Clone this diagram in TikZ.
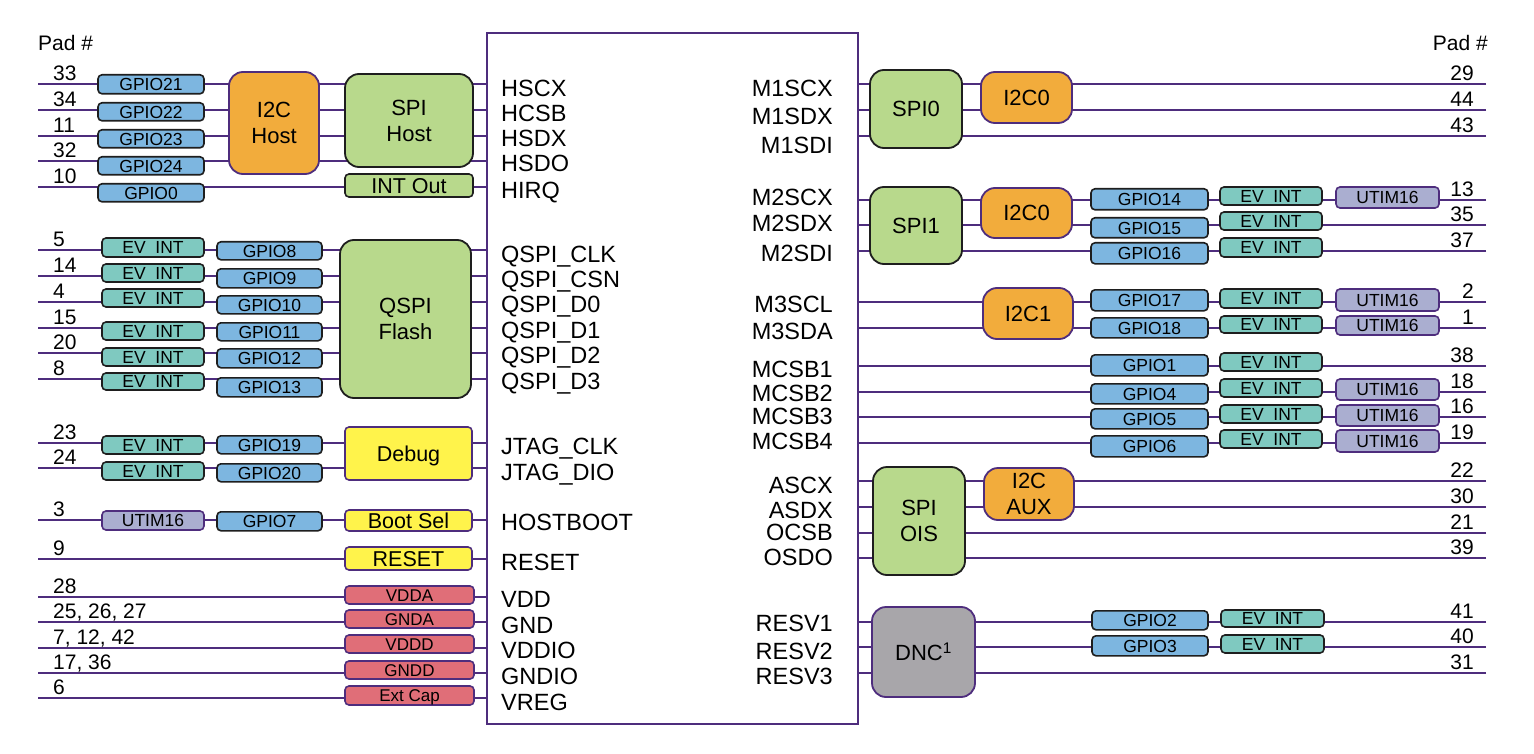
\documentclass[tikz,border=0pt]{standalone}
\usepackage{fontspec}
\setmainfont{Liberation Sans}
\definecolor{ln}{RGB}{78,45,125}
\definecolor{gpioc}{RGB}{125,182,224}
\definecolor{evc}{RGB}{127,201,192}
\definecolor{utc}{RGB}{170,174,208}
\definecolor{orc}{RGB}{242,172,60}
\definecolor{grc}{RGB}{184,217,140}
\definecolor{yec}{RGB}{255,243,75}
\definecolor{pwc}{RGB}{224,110,120}
\definecolor{dnc}{RGB}{168,166,170}
\definecolor{dk}{RGB}{30,30,30}
\newcommand\bx[7]{\node[#2, minimum width={(#5-#3)*1pt}, minimum height={(#6-#4)*1pt}] (#1) at ({(#3+#5)/2},{(#4+#6)/2}) {#7};}
\tikzset{
  wire/.style={draw=ln, line width=1.8pt},
  bxbase/.style={draw, line width=1.6pt, inner sep=0pt, rounded corners=4pt, text depth=0pt},
  gpio/.style={bxbase, fill=gpioc, draw=dk, font=\fontsize{17.5}{18}\selectfont, text height=12.5pt, yshift=-0.8pt},
  evint/.style={bxbase, fill=evc, draw=dk, font=\fontsize{17.5}{18}\selectfont, text height=12.5pt},
  utim/.style={bxbase, fill=utc, draw=ln, font=\fontsize{17.5}{18}\selectfont, text height=12.5pt},
  pwrb/.style={bxbase, fill=pwc, draw=ln, font=\fontsize{17}{18}\selectfont, text height=12.2pt},
  yelb/.style={bxbase, fill=yec, draw=ln, font=\fontsize{21.5}{24}\selectfont, text height=15.4pt},
  grns/.style={bxbase, fill=grc, draw=dk, font=\fontsize{21.5}{24}\selectfont, text height=15.4pt},
  big/.style={draw, line width=1.8pt, inner sep=0pt, rounded corners=14pt, align=center, font=\fontsize{22}{26}\selectfont},
  i2c/.style={big, fill=orc, draw=ln},
  spi/.style={big, fill=grc, draw=dk},
  dncb/.style={big, fill=dnc, draw=ln},
  chipb/.style={draw=ln, line width=1.8pt, inner sep=0pt},
  padnum/.style={font=\fontsize{21}{24}\selectfont, inner sep=0pt},
  pinlbl/.style={font=\fontsize{23.5}{26}\selectfont, inner sep=0pt},
}
\begin{document}
\begin{tikzpicture}[x=1pt,y=-1pt]
\fill[white] (0,0) rectangle (1534,754);
\useasboundingbox (0,0) rectangle (1534,754);
\bx{chip}{chipb}{487}{33}{858}{724}{}
% left wires
\foreach \y [count=\i] in {84,110,136,161,187,250,276,302,328,353,379,443,468,520,559,597,622,648,673,698}
  {\coordinate (lp\i) at (38,\y);}
\foreach \i in {1,...,20} {\draw[wire] (lp\i) -- (lp\i -| chip.west);}
% right wires
\foreach \y [count=\i] in {84,110,136,200,225,251,302,328,366,392,417,443,481,507,533,558,622,647,673}
  {\coordinate (rp\i) at (1486,\y);}
\foreach \i in {1,...,19} {\draw[wire] (rp\i) -- (rp\i -| chip.east);}
% pad headings
\node[padnum, anchor=base west] (padhl) at (38,50.5) {Pad \#};
\node[padnum, anchor=base east] (padhr) at (1488,50.5) {Pad \#};
% left pad numbers
\foreach \y/\t [count=\i] in {84/33,110/34,136/11,161/32,187/10,250/5,276/14,302/4,328/15,353/20,379/8,443/23,468/24,520/3,559/9,597/28,622/{25, 26, 27},648/{7, 12, 42},673/{17, 36},698/6}
  {\node[padnum, anchor=base west] (lnum\i) at (53,\y-3.5) {\t};}
% right pad numbers
\foreach \y/\t [count=\i] in {84/29,110/44,136/43,200/13,225/35,251/37,302/2,328/1,366/38,392/18,417/16,443/19,481/22,507/30,533/21,558/39,622/41,647/40,673/31}
  {\node[padnum, anchor=base east] (rnum\i) at (1474,\y-3.5) {\t};}
% left pin labels
\foreach \y/\t [count=\i] in {88/HSCX,113/HCSB,138/HSDX,163/HSDO,190/HIRQ,254/QSPI\_CLK,279/QSPI\_CSN,304/QSPI\_D0,330/QSPI\_D1,355/QSPI\_D2,381/QSPI\_D3,446/JTAG\_CLK,472/JTAG\_DIO,522/HOSTBOOT,562/RESET,599/VDD,625/GND,650/VDDIO,676/GNDIO,702/VREG}
  {\node[pinlbl, anchor=base west] (lpin\i) at (501,\y+8.4) {\t};}
% right pin labels
\foreach \y/\t [count=\i] in {88/M1SCX,116/M1SDX,145/M1SDI,197/M2SCX,223/M2SDX,253/M2SDI,304/M3SCL,331/M3SDA,369/MCSB1,393/MCSB2,416/MCSB3,441/MCSB4,485/ASCX,510/ASDX,532/OCSB,557/OSDO,623/RESV1,651/RESV2,676/RESV3}
  {\node[pinlbl, anchor=base east] (rpin\i) at (833,\y+8.4) {\t};}
% ---- left blocks ----
\bx{g21}{gpio}{98}{74}{204}{93}{GPIO21}
\bx{g22}{gpio}{98}{102}{204}{120}{GPIO22}
\bx{g23}{gpio}{98}{129}{204}{147}{GPIO23}
\bx{g24}{gpio}{98}{156}{204}{174}{GPIO24}
\bx{g0}{gpio}{98}{183}{204}{201}{GPIO0}
\bx{i2ch}{i2c}{229}{72}{319}{174}{I2C\\Host}
\bx{spih}{spi}{345}{74}{473}{167}{SPI\\Host}
\bx{into}{grns}{345}{174}{473}{197}{INT Out}
\bx{e8}{evint}{102}{238}{204}{257}{EV~~INT}
\bx{e9}{evint}{102}{264}{204}{282}{EV~~INT}
\bx{e10}{evint}{102}{289}{204}{307}{EV~~INT}
\bx{e11}{evint}{102}{322}{204}{340}{EV~~INT}
\bx{e12}{evint}{102}{348}{204}{366}{EV~~INT}
\bx{e13}{evint}{102}{373}{204}{390}{EV~~INT}
\bx{g8}{gpio}{217}{241}{322}{259}{GPIO8}
\bx{g9}{gpio}{217}{268}{322}{287}{GPIO9}
\bx{g10}{gpio}{217}{295}{322}{313}{GPIO10}
\bx{g11}{gpio}{217}{322}{322}{340}{GPIO11}
\bx{g12}{gpio}{217}{348}{322}{367}{GPIO12}
\bx{g13}{gpio}{217}{377}{322}{396}{GPIO13}
\bx{qspi}{spi}{340}{240}{471}{398}{QSPI\\Flash}
\bx{e19}{evint}{102}{436}{204}{454}{EV~~INT}
\bx{e20}{evint}{102}{462}{204}{480}{EV~~INT}
\bx{g19}{gpio}{217}{435}{322}{453}{GPIO19}
\bx{g20}{gpio}{217}{463}{322}{481}{GPIO20}
\bx{dbg}{yelb}{345}{427}{472}{480}{Debug}
\bx{ut7}{utim}{102}{511}{204}{530}{UTIM16}
\bx{g7}{gpio}{217}{511}{322}{530}{GPIO7}
\bx{boot}{yelb}{345}{510}{472}{531}{Boot Sel}
\bx{rst}{yelb}{345}{547}{472}{570}{RESET}
\bx{vdda}{pwrb}{345}{586}{474}{604}{VDDA}
\bx{gnda}{pwrb}{345}{610}{474}{628}{GNDA}
\bx{vddd}{pwrb}{345}{635}{474}{653}{VDDD}
\bx{gndd}{pwrb}{345}{661}{474}{679}{GNDD}
\bx{extc}{pwrb}{345}{686}{474}{705}{Ext Cap}
% ---- right blocks ----
\bx{spi0}{spi}{870}{70}{962}{148}{SPI0}
\bx{i2c0a}{i2c}{981}{72}{1072}{123}{I2C0}
\bx{spi1}{spi}{870}{187}{962}{264}{SPI1}
\bx{i2c0b}{i2c}{981}{188}{1072}{238}{I2C0}
\bx{g14}{gpio}{1091}{188}{1208}{209}{GPIO14}
\bx{g15}{gpio}{1091}{217}{1208}{237}{GPIO15}
\bx{g16}{gpio}{1091}{242}{1208}{263}{GPIO16}
\bx{e14}{evint}{1220}{187}{1322}{205}{EV~~INT}
\bx{e15}{evint}{1220}{212}{1322}{230}{EV~~INT}
\bx{e16}{evint}{1220}{238}{1322}{257}{EV~~INT}
\bx{u14}{utim}{1336}{187}{1439}{208}{UTIM16}
\bx{i2c1}{i2c}{983}{288}{1073}{339}{I2C1}
\bx{g17}{gpio}{1091}{289}{1208}{310}{GPIO17}
\bx{g18}{gpio}{1091}{317}{1208}{337}{GPIO18}
\bx{e17}{evint}{1220}{289}{1322}{308}{EV~~INT}
\bx{e18}{evint}{1220}{316}{1322}{333}{EV~~INT}
\bx{u17}{utim}{1336}{289}{1439}{311}{UTIM16}
\bx{u18}{utim}{1336}{316}{1439}{335}{UTIM16}
\bx{g1}{gpio}{1091}{354}{1208}{375}{GPIO1}
\bx{e1}{evint}{1220}{353}{1322}{371}{EV~~INT}
\bx{g4}{gpio}{1091}{383}{1208}{403}{GPIO4}
\bx{e4}{evint}{1220}{379}{1322}{397}{EV~~INT}
\bx{u4}{utim}{1336}{379}{1439}{400}{UTIM16}
\bx{g5}{gpio}{1091}{408}{1208}{428}{GPIO5}
\bx{e5}{evint}{1220}{405}{1322}{423}{EV~~INT}
\bx{u5}{utim}{1336}{405}{1439}{426}{UTIM16}
\bx{g6}{gpio}{1091}{435}{1208}{456}{GPIO6}
\bx{e6}{evint}{1220}{430}{1322}{448}{EV~~INT}
\bx{u6}{utim}{1336}{430}{1439}{452}{UTIM16}
\bx{spiois}{spi}{873}{467}{965}{575}{SPI\\OIS}
\bx{i2caux}{i2c}{984}{468}{1074}{520}{I2C\\AUX}
\bx{dncn}{dncb}{872}{607}{975}{697}{DNC\textsuperscript{1}}
\bx{g2}{gpio}{1092}{610}{1208}{629}{GPIO2}
\bx{g3}{gpio}{1092}{635}{1208}{655}{GPIO3}
\bx{e2}{evint}{1221}{610}{1324}{627}{EV~~INT}
\bx{e3}{evint}{1221}{635}{1324}{653}{EV~~INT}
\end{tikzpicture}
\end{document}
